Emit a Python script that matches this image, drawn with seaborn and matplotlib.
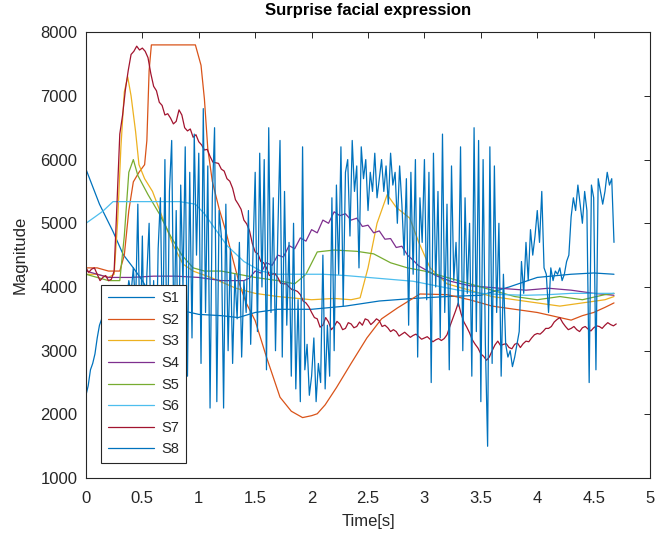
import numpy as np
import pandas as pd
import matplotlib
matplotlib.use("Agg")
import matplotlib.pyplot as plt
import seaborn as sns

# ---- data -------------------------------------------------------------
series_names = ["S1", "S2", "S3", "S4", "S5", "S6", "S7", "S8"]
line_colors = ["#0072BD", "#D95319", "#EDB120", "#7E2F8E",
               "#77AC30", "#4DBEEE", "#A2142F", "#0072BD"]

s1_t = [0.00, 0.12, 0.24, 0.33, 0.42, 0.50, 0.60, 0.80, 1.00, 1.20, 1.35,
        1.50, 1.70, 2.00, 2.30, 2.60, 2.90, 3.20, 3.50, 3.75, 4.00, 4.30,
        4.50, 4.68]
s1_v = [5850, 5300, 4870, 4510, 4300, 4100, 3800, 3650, 3570, 3550, 3520,
        3600, 3650, 3650, 3700, 3780, 3820, 3850, 3870, 4000, 4150, 4200,
        4220, 4200]

s2_t = [0.00, 0.10, 0.20, 0.30, 0.34, 0.38, 0.42, 0.47, 0.52, 0.54, 0.56,
        0.58, 0.97, 1.02, 1.05, 1.08, 1.12, 1.18, 1.24, 1.30, 1.36, 1.42,
        1.50, 1.60, 1.72, 1.82, 1.92, 2.00, 2.05, 2.12, 2.22, 2.35, 2.49,
        2.62, 2.76, 2.96, 3.20, 3.40, 3.60, 3.80, 4.00, 4.20, 4.30, 4.40,
        4.50, 4.60, 4.68]
s2_v = [4300, 4300, 4250, 4250, 4500, 5200, 5650, 5800, 5920, 6300, 7400,
        7800, 7800, 7480, 6950, 6170, 5660, 5230, 4875, 4450, 4050, 3750,
        3470, 2900, 2270, 2050, 1950, 1980, 2010, 2150, 2420, 2800, 3200,
        3500, 3670, 3890, 3880, 3800, 3700, 3650, 3600, 3520, 3480, 3550,
        3600, 3680, 3750]

s3_t = [0.00, 0.10, 0.20, 0.25, 0.28, 0.31, 0.34, 0.37, 0.40, 0.44, 0.47,
        0.52, 0.59, 0.68, 0.77, 0.86, 0.95, 1.12, 1.33, 1.50, 1.70, 2.00,
        2.20, 2.35, 2.43, 2.50, 2.58, 2.67, 2.75, 2.87, 2.95, 3.05, 3.20,
        3.40, 3.60, 3.80, 4.00, 4.20, 4.40, 4.60, 4.68]
s3_v = [4200, 4200, 4150, 4200, 5000, 6200, 7060, 7300, 7000, 6440, 5920,
        5700, 5500, 5080, 4670, 4360, 4250, 4140, 3980, 3900, 3850, 3800,
        3820, 3800, 3830, 4300, 5000, 5450, 5250, 5080, 4700, 4300, 4050,
        3950, 3850, 3800, 3750, 3700, 3750, 3800, 3850]

s4_t = [0.00, 0.20, 0.40, 0.60, 0.80, 1.00, 1.20, 1.40, 1.45, 1.50, 1.55,
        1.60, 1.65, 1.70, 1.75, 1.80, 1.85, 1.90, 1.95, 2.00, 2.05, 2.10,
        2.15, 2.20, 2.25, 2.30, 2.35, 2.40, 2.45, 2.50, 2.55, 2.60, 2.65,
        2.70, 2.75, 2.80, 2.85, 2.90, 2.95, 3.00, 3.10, 3.23, 3.40, 3.67,
        3.90, 4.10, 4.30, 4.50, 4.68]
s4_v = [4250, 4150, 4150, 4170, 4170, 4150, 4100, 4100, 4140, 4250, 4220,
        4380, 4340, 4500, 4470, 4650, 4600, 4770, 4720, 4900, 4850, 5050,
        5000, 5180, 5120, 5150, 5050, 5080, 4950, 4970, 4850, 4880, 4750,
        4760, 4620, 4640, 4500, 4420, 4330, 4280, 4180, 4090, 4020, 3980,
        3950, 3980, 3950, 3900, 3870]

s5_t = [0.00, 0.10, 0.20, 0.30, 0.34, 0.38, 0.42, 0.46, 0.55, 0.65, 0.75,
        0.85, 0.95, 1.05, 1.20, 1.35, 1.50, 1.70, 1.85, 1.95, 2.05, 2.20,
        2.40, 2.55, 2.70, 2.85, 3.00, 3.20, 3.40, 3.60, 3.80, 4.00, 4.20,
        4.40, 4.60, 4.68]
s5_v = [4200, 4150, 4100, 4100, 4800, 5800, 6000, 5750, 5450, 5150, 4800,
        4500, 4300, 4250, 4250, 4200, 4150, 4100, 4050, 4200, 4550, 4580,
        4560, 4520, 4380, 4300, 4250, 4150, 4050, 3950, 3850, 3800, 3850,
        3800, 3880, 3900]

s6_t = [0.00, 0.08, 0.15, 0.24, 0.50, 0.83, 0.97, 1.05, 1.15, 1.25, 1.40,
        1.55, 1.70, 1.90, 2.10, 2.30, 2.50, 2.70, 2.90, 3.10, 3.30, 3.50,
        3.70, 3.90, 4.10, 4.30, 4.50, 4.68]
s6_v = [5000, 5100, 5190, 5340, 5340, 5340, 5300, 5150, 4900, 4650, 4400,
        4250, 4200, 4200, 4200, 4180, 4150, 4120, 4090, 4020, 3950, 3900,
        3880, 3870, 3880, 3900, 3900, 3900]

# S7 sampled every 0.025 s
s7_v = [4300, 4230, 4280, 4300, 4200, 4100, 4150, 4180, 4100, 4120,
        4250, 5300, 6400, 6700, 7100, 7400, 7650, 7700, 7780, 7720,
        7750, 7700, 7600, 7350, 7150, 7080, 6900, 6850, 6700, 6720,
        6650, 6560, 6600, 6780, 6700, 6500, 6450, 6480, 6350, 6390,
        6280, 6230, 6150, 6160, 6050, 5960, 5950, 5940, 5850, 5820,
        5700, 5660, 5550, 5370, 5300, 5220, 5050, 4990, 4880, 4680,
        4550, 4520, 4400, 4380, 4300, 4180, 4200, 4210, 4150, 4060,
        4050, 4050, 4000, 3960, 3950, 3930, 3880, 3780, 3750, 3690,
        3600, 3520, 3500, 3370, 3400, 3520, 3450, 3330, 3380, 3460,
        3420, 3330, 3350, 3440, 3420, 3360, 3380, 3450, 3400, 3500,
        3480, 3410, 3450, 3500, 3470, 3380, 3400, 3360, 3300, 3330,
        3300, 3230, 3260, 3290, 3250, 3210, 3240, 3260, 3220, 3180,
        3200, 3220, 3180, 3140, 3170, 3190, 3160, 3190, 3250, 3380,
        3500, 3620, 3750, 3580, 3450, 3370, 3280, 3170, 3100, 3040,
        2950, 2910, 2850, 2900, 3000, 3090, 3150, 3080, 3100, 3110,
        3050, 3030, 3100, 3120, 3050, 3110, 3150, 3140, 3200, 3250,
        3270, 3260, 3300, 3350, 3350, 3380, 3450, 3490, 3520, 3440,
        3380, 3330, 3350, 3380, 3330, 3300, 3360, 3380, 3340, 3310,
        3360, 3390, 3380, 3350, 3400, 3440, 3410, 3390, 3420]

# S8 sampled every 0.02 s
s8_v = [2300, 2450, 2700, 2800, 2950, 3200, 3400, 3500, 3600, 3550,
        3650, 3700, 3600, 3750, 3800, 3700, 3850, 3900, 3800, 4100,
        3900, 4300, 3700, 5300, 3000, 4800, 2600, 4200, 5000, 2700,
        4100, 2500, 4600, 5400, 3000, 6000, 2400, 5500, 6300, 3100,
        5200, 2300, 5600, 4000, 6200, 2600, 5800, 3200, 6400, 4500,
        6100, 2800, 6800, 3600, 5900, 2100, 5400, 6500, 2200, 5200,
        4800, 2100, 5300, 3000, 4600, 2800, 4200, 3500, 4700, 2900,
        4100, 3600, 5200, 3100, 4500, 5800, 3300, 6100, 4000, 6000,
        2700, 6500, 3600, 5400, 3000, 4800, 6300, 2900, 5500, 3400,
        4700, 2600, 5000, 2400, 3800, 2200, 6200, 2700, 3100, 2300,
        2600, 3200, 2200, 2800, 2500, 4500, 2400, 3400, 2600, 5400,
        3000, 5600, 4200, 6200, 3700, 5800, 6000, 4800, 6300, 5500,
        5900, 4300, 6200, 5700, 6000, 5200, 5800, 5500, 6100, 5400,
        5700, 6000, 5500, 5900, 5300, 6100, 5600, 5800, 5000, 5900,
        5300, 4500, 5700, 3400, 5800, 4200, 6000, 2900, 5400, 4700,
        6000, 3800, 5800, 2500, 6100, 4000, 5500, 3200, 6400, 3600,
        5300, 2700, 5900, 4100, 4700, 3700, 6200, 3000, 5400, 3900,
        5000, 2600, 6500, 3300, 6300, 2200, 6000, 3100, 1500, 6200,
        2800, 5900, 3600, 5000, 2600, 4200, 3100, 2900, 3000, 2750,
        2900, 3100, 3300, 4400, 3900, 4700, 4100, 4900, 4500, 4800,
        5200, 4700, 5500, 4300, 4200, 3600, 4300, 4100, 4250, 4200,
        4300, 4100, 4200, 4400, 4500, 5100, 5400, 5200, 5600, 5300,
        5000, 5500, 5200, 2500, 5600, 5400, 2700, 5700, 5500, 5300,
        5500, 5800, 5600, 5700, 4700]

s7_t = np.arange(len(s7_v)) * 0.025
s8_t = np.arange(len(s8_v)) * 0.02

x_ticks = [0, 0.5, 1, 1.5, 2, 2.5, 3, 3.5, 4, 4.5, 5]
x_tick_labels = ["0", "0.5", "1", "1.5", "2", "2.5", "3", "3.5", "4", "4.5", "5"]
y_ticks = [1000, 2000, 3000, 4000, 5000, 6000, 7000, 8000]

# ---- long-form table ----------------------------------------------------
pairs = [(s1_t, s1_v), (s2_t, s2_v), (s3_t, s3_v), (s4_t, s4_v),
         (s5_t, s5_v), (s6_t, s6_v), (s7_t, s7_v), (s8_t, s8_v)]
frames = []
for name, (t, v) in zip(series_names, pairs):
    frames.append(pd.DataFrame({"Time": np.asarray(t, float),
                                "Magnitude": np.asarray(v, float),
                                "Series": name}))
df = pd.concat(frames, ignore_index=True)

# ---- figure ------------------------------------------------------------
sns.set_theme(style="white")
plt.rcParams["font.family"] = ["Liberation Sans", "DejaVu Sans"]
ink = "#262626"

fig = plt.figure(figsize=(6.56, 5.36), dpi=100)
ax = fig.add_axes([0.131, 0.108, 0.860, 0.832])

sns.lineplot(data=df, x="Time", y="Magnitude", hue="Series",
             hue_order=series_names, palette=line_colors,
             estimator=None, sort=False, linewidth=0.9, ax=ax)

ax.set_xlim(0, 5)
ax.set_ylim(1000, 8000)
ax.set_xticks(x_ticks)
ax.set_xticklabels(x_tick_labels)
ax.set_yticks(y_ticks)
ax.set_yticklabels([str(v) for v in y_ticks])

ax.tick_params(direction="in", top=True, right=True, length=4,
               width=0.7, color=ink, labelcolor=ink, labelsize=12)
ax.tick_params(axis="x", pad=9)
ax.tick_params(axis="y", pad=6)
for sp in ax.spines.values():
    sp.set_color(ink)
    sp.set_linewidth(0.8)

ax.set_xlabel("Time[s]", fontsize=12, color=ink, labelpad=6)
ax.set_ylabel("Magnitude", fontsize=12, color=ink, labelpad=9)
ax.set_title("Surprise facial expression", fontsize=12, fontweight="bold",
             color="black", pad=12)

handles, labels = ax.get_legend_handles_labels()
leg = ax.legend(handles, labels, loc="lower left",
                bbox_to_anchor=(0.027, 0.034), borderaxespad=0,
                fontsize=10.5, handlelength=3.2, handletextpad=0.5,
                labelspacing=0.52, borderpad=0.45, fancybox=False,
                framealpha=1, edgecolor=ink)
leg.get_frame().set_linewidth(0.8)
for line in leg.get_lines():
    line.set_linewidth(0.9)

fig.savefig("out.png", dpi=100, facecolor="white")
